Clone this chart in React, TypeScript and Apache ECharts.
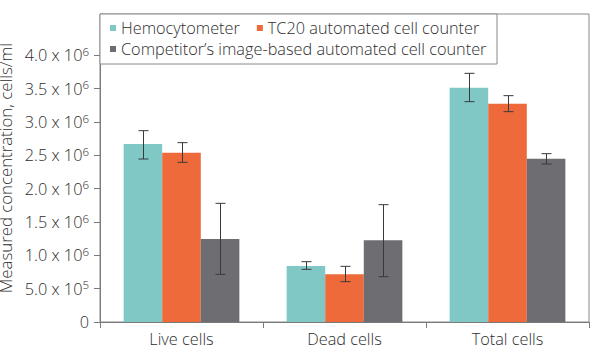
import React, { useEffect, useRef } from "react";
import * as echarts from "echarts";

const categories = ["Live cells", "Dead cells", "Total cells"];
const seriesNames = [
  "Hemocytometer",
  "TC20 automated cell counter",
  "Competitor\u2019s image-based automated cell counter",
];
const hemocytometer = [2.67e6, 0.84e6, 3.515e6];
const tc20 = [2.54e6, 0.715e6, 3.275e6];
const competitor = [1.245e6, 1.225e6, 2.45e6];
const hemoErrLow = [2.445e6, 0.79e6, 3.305e6];
const hemoErrHigh = [2.87e6, 0.905e6, 3.73e6];
const tc20ErrLow = [2.395e6, 0.605e6, 3.155e6];
const tc20ErrHigh = [2.69e6, 0.835e6, 3.395e6];
const compErrLow = [0.715e6, 0.68e6, 2.37e6];
const compErrHigh = [1.78e6, 1.76e6, 2.525e6];
const yTickValues = [0, 5e5, 1e6, 1.5e6, 2e6, 2.5e6, 3e6, 3.5e6, 4e6];

const colors = ["#80c8c5", "#ee6a3a", "#6e6d72"];
const FONT = "'Open Sans', 'Liberation Sans', Arial, sans-serif";
const TEXT = "#2e2e2e";
const CAT_GAP = 0.29;
const FS = 16.3;
const FW = 300;

export default function App() {
  const ref = useRef<HTMLDivElement>(null);
  useEffect(() => {
    document.body.style.margin = "0";
    const chart = echarts.init(ref.current!, undefined, { renderer: "svg" });
    const values = [hemocytometer, tc20, competitor];
    const lows = [hemoErrLow, tc20ErrLow, compErrLow];
    const highs = [hemoErrHigh, tc20ErrHigh, compErrHigh];
    const errData: number[][] = [];
    for (let s = 0; s < 3; s++) {
      for (let c = 0; c < categories.length; c++) {
        errData.push([c, lows[s][c], highs[s][c], s]);
      }
    }
    const fmt = (v: number) => {
      if (v === 0) return "{b|0}";
      if (v >= 1e6) return `{b|${(v / 1e6).toFixed(1)} x 10}{s|6}`;
      return `{b|${(v / 1e5).toFixed(1)} x 10}{s|5}`;
    };
    const legendText = { fontSize: FS, fontWeight: FW, color: TEXT, fontFamily: FONT };
    chart.setOption({
      animation: false,
      textStyle: { fontFamily: FONT },
      grid: {
        left: 100,
        right: 11,
        top: 14,
        bottom: 31,
        show: true,
        borderColor: "#8a8a8a",
        borderWidth: 1,
        containLabel: false,
        outerBoundsMode: "none",
      },
      legend: [
        {
          data: seriesNames.slice(0, 2),
          left: 110,
          top: 20,
          padding: 0,
          itemWidth: 6,
          itemHeight: 6,
          itemGap: 17,
          icon: "rect",
          z: 10,
          textStyle: legendText,
        },
        {
          data: seriesNames.slice(2),
          left: 110,
          top: 41,
          padding: 0,
          itemWidth: 6,
          itemHeight: 6,
          icon: "rect",
          z: 10,
          textStyle: legendText,
        },
      ],
      graphic: [
        {
          type: "rect",
          z: 8,
          shape: { x: 100, y: 14, width: 397, height: 50 },
          style: { fill: "#ffffff", stroke: "#8a8a8a", lineWidth: 1 },
        },
      ],
      xAxis: {
        type: "category",
        data: categories,
        axisLine: { lineStyle: { color: "#7a7a7a" } },
        axisTick: { show: true, length: 6, lineStyle: { color: "#7a7a7a" } },
        axisLabel: { fontSize: FS, fontWeight: FW, color: TEXT, margin: 9, fontFamily: FONT },
      },
      yAxis: {
        type: "value",
        min: 0,
        max: 4.62e6,
        interval: 5e5,
        name: "Measured concentration, cells/ml",
        nameLocation: "middle",
        nameGap: 77,
        nameTextStyle: { fontSize: 16.8, fontWeight: FW, color: TEXT, fontFamily: FONT },
        splitLine: { show: false },
        axisLine: { show: true, lineStyle: { color: "#7a7a7a" } },
        axisTick: {
          show: true,
          length: 6,
          lineStyle: { color: "#7a7a7a" },
          customValues: yTickValues,
        },
        axisLabel: {
          customValues: yTickValues,
          margin: 11,
          formatter: fmt,
          color: TEXT,
          rich: {
            b: { fontSize: FS, fontWeight: FW, color: TEXT, fontFamily: FONT },
            s: { fontSize: 11.5, fontWeight: FW, color: TEXT, fontFamily: FONT, padding: [0, 0, 8, 0] },
          },
        },
      },
      series: [
        ...seriesNames.map((name, i) => ({
          name,
          type: "bar",
          data: values[i],
          itemStyle: { color: colors[i] },
          barGap: "0%",
          barCategoryGap: `${CAT_GAP * 100}%`,
        })),
        {
          type: "custom",
          name: "error",
          data: errData,
          z: 5,
          renderItem: (params: any, api: any) => {
            const c = api.value(0);
            const lo = api.value(1);
            const hi = api.value(2);
            const s = api.value(3);
            const top = api.coord([c, hi]);
            const bot = api.coord([c, lo]);
            const band = api.size([1, 0])[0];
            const bw = (band * (1 - CAT_GAP)) / 3;
            const x = Math.round(top[0] + (s - 1) * bw) + 0.5;
            const cap = 5;
            const style = { stroke: "#3a3a3a", lineWidth: 1 };
            return {
              type: "group",
              children: [
                { type: "line", shape: { x1: x, y1: top[1], x2: x, y2: bot[1] }, style },
                { type: "line", shape: { x1: x - cap, y1: top[1], x2: x + cap, y2: top[1] }, style },
                { type: "line", shape: { x1: x - cap, y1: bot[1], x2: x + cap, y2: bot[1] }, style },
              ],
            };
          },
        },
      ],
    });
    return () => chart.dispose();
  }, []);
  return <div ref={ref} style={{ width: 600, height: 353 }} />;
}
